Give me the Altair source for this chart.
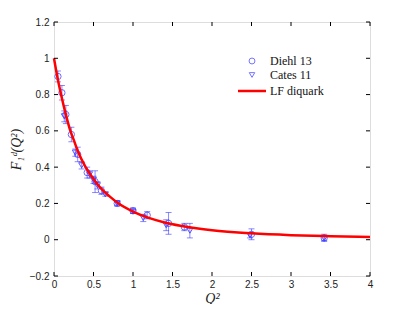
import altair as alt
import pandas as pd

# Diehl 13 (circles)
diehl_q2 = [0.05, 0.10, 0.15, 0.22, 0.30, 0.42, 0.52, 0.60, 0.80, 1.00, 1.18, 1.45, 1.65, 2.50, 3.42]
diehl_f = [0.90, 0.81, 0.69, 0.58, 0.47, 0.37, 0.32, 0.27, 0.20, 0.16, 0.135, 0.09, 0.07, 0.03, 0.01]
diehl_err = [0.03, 0.04, 0.05, 0.04, 0.04, 0.03, 0.06, 0.02, 0.015, 0.015, 0.02, 0.06, 0.02, 0.03, 0.02]

# Cates 11 (triangles)
cates_q2 = [0.13, 0.27, 0.35, 0.45, 0.50, 0.55, 0.65, 0.80, 1.00, 1.13, 1.42, 1.72, 2.48, 3.42]
cates_f = [0.68, 0.48, 0.41, 0.36, 0.33, 0.30, 0.25, 0.20, 0.155, 0.12, 0.08, 0.05, 0.025, 0.008]
cates_err = [0.03, 0.02, 0.02, 0.02, 0.02, 0.02, 0.01, 0.01, 0.01, 0.02, 0.03, 0.04, 0.015, 0.012]

# LF diquark curve
curve_q2 = [0, 0.05, 0.1, 0.15, 0.2, 0.25, 0.3, 0.4, 0.5, 0.6, 0.7, 0.8, 1.0, 1.2, 1.4, 1.6, 1.8, 2.0, 2.5, 3.0, 3.5, 4.0]
curve_f = [1.0, 0.88, 0.78, 0.69, 0.61, 0.55, 0.49, 0.40, 0.335, 0.28, 0.24, 0.205, 0.155, 0.12, 0.095, 0.077, 0.063, 0.052, 0.035, 0.025, 0.019, 0.015]

x_ticks = [0, 0.5, 1, 1.5, 2, 2.5, 3, 3.5, 4]
y_ticks = [-0.2, 0, 0.2, 0.4, 0.6, 0.8, 1.0, 1.2]

legend_labels = ["Diehl 13", "Cates 11", "LF diquark"]

W, H = 316, 254
BLUE = "#3b3bff"

dd = pd.DataFrame({"q2": diehl_q2, "f": diehl_f, "lo": [a - b for a, b in zip(diehl_f, diehl_err)], "hi": [a + b for a, b in zip(diehl_f, diehl_err)]})
cd = pd.DataFrame({"q2": cates_q2, "f": cates_f, "lo": [a - b for a, b in zip(cates_f, cates_err)], "hi": [a + b for a, b in zip(cates_f, cates_err)]})
cv = pd.DataFrame({"q2": curve_q2, "f": curve_f})

xs = alt.Scale(domain=[0, 4], nice=False, zero=False)
ys = alt.Scale(domain=[-0.2, 1.2], nice=False, zero=False)

AX = alt.Axis(values=x_ticks, format="~g", title="Q²", grid=False, ticks=False, domain=False,
              labelOverlap=False, labelFlush=False,
              labelFont="Liberation Sans", labelFontSize=10, labelColor="#222", labelPadding=3,
              titleFont="Liberation Serif", titleFontStyle="italic", titleFontWeight="normal",
              titleFontSize=14, titleColor="#222", titlePadding=2)
AY = alt.Axis(values=y_ticks, format="~g", title="F₁ᵈ(Q²)", grid=False, ticks=False, domain=False,
              labelOverlap=False, labelFlush=False,
              labelFont="Liberation Sans", labelFontSize=10, labelColor="#222", labelPadding=5,
              titleFont="Liberation Serif", titleFontStyle="italic", titleFontWeight="normal",
              titleFontSize=14, titleColor="#222", titlePadding=6)

def xq(f):
    return alt.X(f, scale=xs, axis=AX)

def yq(f):
    return alt.Y(f, scale=ys, axis=AY)

def errs(df):
    base = alt.Chart(df)
    bars = base.mark_rule(color=BLUE, opacity=0.6, strokeWidth=1).encode(x=xq("q2:Q"), y=yq("lo:Q"), y2="hi:Q")
    cap_lo = base.mark_tick(color=BLUE, opacity=0.6, orient="horizontal", size=6, thickness=1).encode(x=xq("q2:Q"), y=yq("lo:Q"))
    cap_hi = base.mark_tick(color=BLUE, opacity=0.6, orient="horizontal", size=6, thickness=1).encode(x=xq("q2:Q"), y=yq("hi:Q"))
    return bars + cap_lo + cap_hi

circles = alt.Chart(dd).mark_point(shape="circle", filled=False, color=BLUE, opacity=0.75, size=40, strokeWidth=1).encode(
    x=xq("q2:Q"), y=yq("f:Q"))
tris = alt.Chart(cd).mark_point(shape="triangle-down", filled=False, color=BLUE, opacity=0.85, size=35, strokeWidth=1).encode(
    x=xq("q2:Q"), y=yq("f:Q"))
line = alt.Chart(cv).mark_line(color="#ff0000", strokeWidth=2.5, interpolate="monotone").encode(
    x=xq("q2:Q"), y=yq("f:Q"))

xt = pd.DataFrame({"v": x_ticks})
yt = pd.DataFrame({"v": y_ticks})
tb = alt.Chart(xt).mark_rule(color="black", strokeWidth=1).encode(x=xq("v:Q"), y=alt.value(H), y2=alt.value(H - 4))
tt = alt.Chart(xt).mark_rule(color="black", strokeWidth=1).encode(x=xq("v:Q"), y=alt.value(0), y2=alt.value(4))
tl = alt.Chart(yt).mark_rule(color="black", strokeWidth=1).encode(y=yq("v:Q"), x=alt.value(0), x2=alt.value(4))
tr = alt.Chart(yt).mark_rule(color="black", strokeWidth=1).encode(y=yq("v:Q"), x=alt.value(W), x2=alt.value(W - 4))

ly = [39, 53, 69]
leg_df = [pd.DataFrame({"label": [lab]}) for lab in legend_labels]
leg_c = alt.Chart(leg_df[0]).mark_point(shape="circle", filled=False, color=BLUE, size=35, strokeWidth=1).encode(
    x=alt.value(198), y=alt.value(ly[0]))
leg_t = alt.Chart(leg_df[1]).mark_point(shape="triangle-down", filled=False, color=BLUE, size=30, strokeWidth=1).encode(
    x=alt.value(198), y=alt.value(ly[1]))
leg_l = alt.Chart(leg_df[2]).mark_rule(color="#ff0000", strokeWidth=2.5).encode(
    x=alt.value(184), x2=alt.value(212), y=alt.value(ly[2]))
leg_texts = [
    alt.Chart(leg_df[i]).mark_text(align="left", baseline="middle", font="Liberation Serif", fontSize=12, color="#111").encode(
        x=alt.value(216), y=alt.value(ly[i]), text="label:N")
    for i in range(3)
]

chart = alt.layer(circles, errs(dd), errs(cd), tris, line, tb, tt, tl, tr, leg_c, leg_t, leg_l, *leg_texts).properties(
    width=W, height=H,
    autosize=alt.AutoSizeParams(type="none"),
    padding={"left": 46, "top": 14, "right": 31, "bottom": 28},
).configure_view(stroke="black", strokeWidth=1).configure_axis(labelOverlap=False).configure(background="white")

chart.save("out.html", embed_options={"renderer": "svg", "actions": False})
